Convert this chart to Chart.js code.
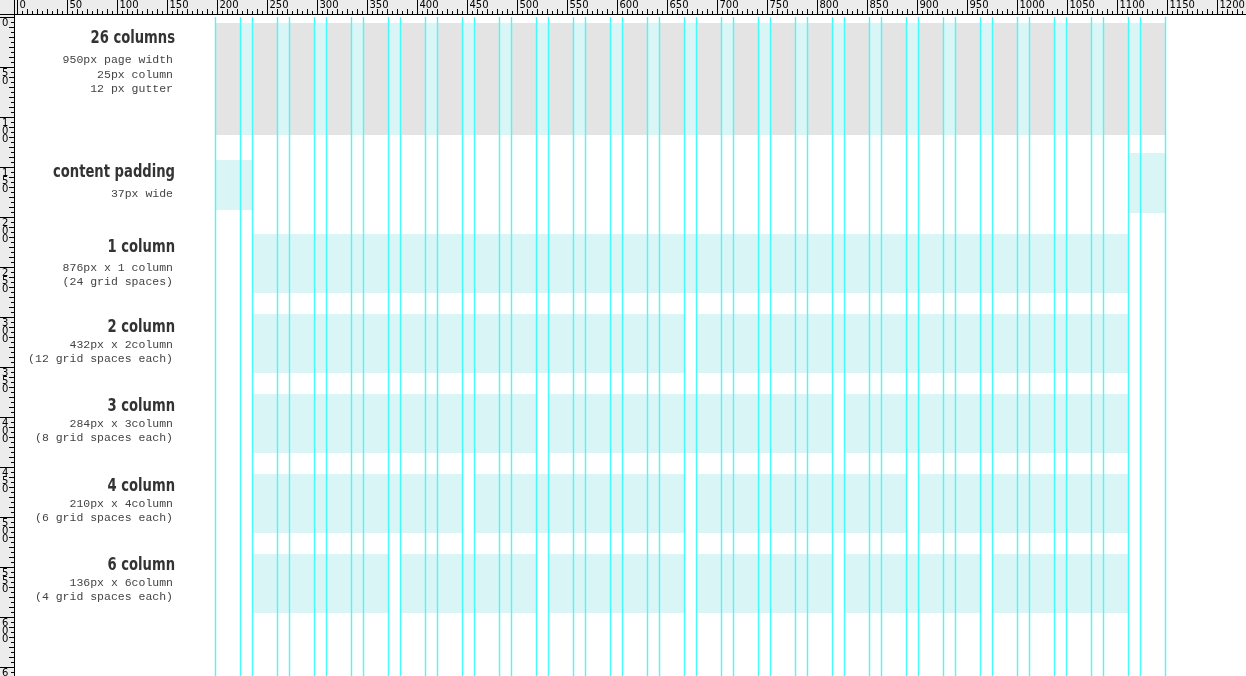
<!DOCTYPE html>
<html>
<head>
<meta charset="utf-8">
<script src="https://cdn.jsdelivr.net/npm/chart.js@4"></script>
<style>
  html, body { margin: 0; padding: 0; background: #fff; }
  #wrap { position: relative; width: 1246px; height: 676px; }
</style>
</head>
<body>
<div id="wrap"><canvas id="grade"></canvas></div>
<script>
    // grid definition (in ruler pixels)
    var gridInicio = 198;
    var colunaLargura = 25;
    var gutter = 12;
    var totalColunas = 26;
    var divisoes = [1, 2, 3, 4, 6];

    var titulos = ['26 columns', 'content padding', '1 column', '2 column', '3 column', '4 column', '6 column'];
    var subtitulos = [
        ['950px page width', '25px column', '12 px gutter'],
        ['37px wide'],
        ['876px x 1 column', '(24 grid spaces)'],
        ['432px x 2column', '(12 grid spaces each)'],
        ['284px x 3column', '(8 grid spaces each)'],
        ['210px x 4column', '(6 grid spaces each)'],
        ['136px x 6column', '(4 grid spaces each)']
    ];

    var CINZA = '#e4e4e4';
    var CIANO_CLARO = '#daf5f5';
    var CIANO = '#45fbfb';

    function retangulo(ctx, sx, sy, x0, x1, y0, y1, cor) {
        var a = sx.getPixelForValue(x0), b = sx.getPixelForValue(x1);
        var c = sy.getPixelForValue(y0), d = sy.getPixelForValue(y1);
        ctx.fillStyle = cor;
        ctx.fillRect(a, c, b - a, d - c);
    }

    var pluginGrade = {
        id: 'grade',
        beforeDatasetsDraw: function (chart) {
            var ctx = chart.ctx;
            var sx = chart.scales.x, sy = chart.scales.y;
            var passo = colunaLargura + gutter;
            var fim = gridInicio + totalColunas * passo - gutter;
            ctx.save();

            // 26 columns band
            retangulo(ctx, sx, sy, gridInicio, fim, 6, 118, CINZA);
            for (var i = 0; i < totalColunas - 1; i++) {
                var g = gridInicio + i * passo + colunaLargura;
                retangulo(ctx, sx, sy, g, g + gutter, 6, 118, CIANO_CLARO);
            }

            // content padding
            var pad = colunaLargura + gutter;
            retangulo(ctx, sx, sy, gridInicio, gridInicio + pad, 143, 193, CIANO_CLARO);
            retangulo(ctx, sx, sy, fim - pad, fim, 136, 196, CIANO_CLARO);

            // column layouts
            var conteudoIni = gridInicio + pad;
            var conteudoLarg = fim - pad - conteudoIni;
            divisoes.forEach(function (n, r) {
                var y0 = 217 + r * 80;
                var larg = (conteudoLarg - gutter * (n - 1)) / n;
                for (var k = 0; k < n; k++) {
                    var x0 = conteudoIni + k * (larg + gutter);
                    retangulo(ctx, sx, sy, x0, x0 + larg, y0, y0 + 59, CIANO_CLARO);
                }
            });

            // guide lines on every column edge
            ctx.strokeStyle = CIANO;
            ctx.lineWidth = 1.4;
            for (var c = 0; c < totalColunas; c++) {
                [gridInicio + c * passo, gridInicio + c * passo + colunaLargura].forEach(function (v) {
                    var px = Math.round(sx.getPixelForValue(v)) + 0.5;
                    ctx.beginPath();
                    ctx.moveTo(px, chart.chartArea.top);
                    ctx.lineTo(px, chart.chartArea.bottom);
                    ctx.stroke();
                });
            }

            // labels
            var xt = sx.getPixelForValue(158);
            var topos = [22, 156, 231, 311, 390, 470, 549];
            ctx.textAlign = 'right';
            ctx.textBaseline = 'middle';
            titulos.forEach(function (t, i) {
                var y = sy.getPixelForValue(topos[i]);
                ctx.fillStyle = '#333';
                ctx.font = 'bold 17px "DejaVu Sans Condensed", "Liberation Sans Narrow", sans-serif';
                ctx.save();
                ctx.translate(xt, y);
                ctx.scale(0.86, 1);
                ctx.fillText(t, 0, 0);
                ctx.restore();
                ctx.font = '11.5px "Liberation Mono", "DejaVu Sans Mono", monospace';
                ctx.fillStyle = '#444';
                var espaco = i === 0 ? 21 : (i === 1 ? 21 : 20);
                var passoLinha = i === 0 ? 14.7 : 14.3;
                subtitulos[i].forEach(function (s, j) {
                    ctx.fillText(s, xt - 2, sy.getPixelForValue(topos[i] + espaco + j * passoLinha - (i >= 3 ? 3 : 0)));
                });
            });
            ctx.restore();
        },
        afterDraw: function (chart) {
            var ctx = chart.ctx;
            var sx = chart.scales.x, sy = chart.scales.y;
            ctx.save();
            ctx.fillStyle = '#ececec';
            ctx.fillRect(0, 0, chart.width, 15);
            ctx.fillRect(0, 0, 15, chart.height);
            ctx.strokeStyle = '#000';
            ctx.lineWidth = 1;
            ctx.beginPath();
            ctx.moveTo(0, 14.5); ctx.lineTo(chart.width, 14.5);
            ctx.moveTo(14.5, 0); ctx.lineTo(14.5, chart.height);
            ctx.stroke();
            ctx.fillStyle = '#000';
            ctx.font = '10px "DejaVu Sans", sans-serif';
            ctx.textBaseline = 'top';
            ctx.textAlign = 'left';
            ctx.beginPath();
            for (var v = 0; v <= sx.max; v += 5) {
                var px = Math.round(sx.getPixelForValue(v)) + 0.5;
                var h = v % 50 === 0 ? 14 : (v % 10 === 0 ? 5 : 3);
                ctx.moveTo(px, 14); ctx.lineTo(px, 14 - h);
                if (v % 50 === 0) ctx.fillText(String(v), px + 2, 0);
            }
            for (var w = 0; w <= sy.max; w += 5) {
                var py = Math.round(sy.getPixelForValue(w)) + 0.5;
                var hh = w % 50 === 0 ? 14 : (w % 10 === 0 ? 5 : 3);
                ctx.moveTo(14, py); ctx.lineTo(14 - hh, py);
                if (w % 50 === 0) {
                    String(w).split('').forEach(function (d, i) {
                        ctx.fillText(d, 2, py + 1 + i * 8);
                    });
                }
            }
            ctx.stroke();
            ctx.restore();
        }
    };

    new Chart(document.getElementById('grade').getContext('2d'), {
        type: 'scatter',
        data: { datasets: [{ data: [] }] },
        options: {
            responsive: true,
            maintainAspectRatio: false,
            animation: false,
            layout: { padding: { left: 17, top: 17 } },
            plugins: { legend: { display: false }, tooltip: { enabled: false } },
            scales: {
                x: { type: 'linear', min: 0, max: 1229, display: false },
                y: { type: 'linear', min: 0, max: 659, reverse: true, display: false }
            }
        },
        plugins: [pluginGrade]
    });
</script>
</body>
</html>
